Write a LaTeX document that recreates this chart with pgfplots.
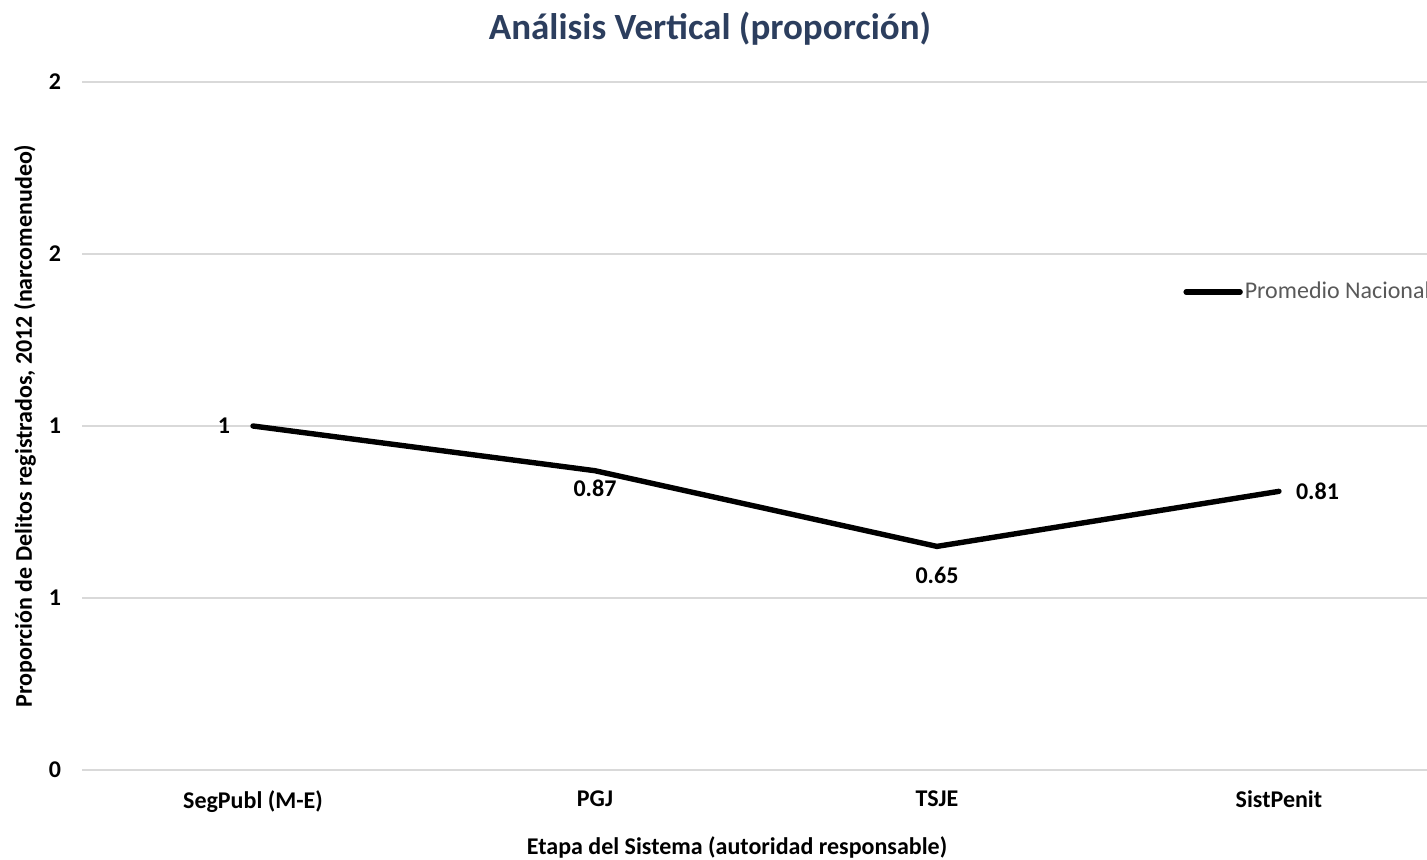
\documentclass[border=0pt]{standalone}
\usepackage{pgfplots}
\pgfplotsset{compat=1.18}
\usepackage{fontspec}
\setmainfont{Carlito}
\definecolor{titleblue}{RGB}{44,62,94}
\definecolor{gridgray}{RGB}{217,217,217}
\definecolor{legtext}{RGB}{89,89,89}
\begin{document}
\begin{tikzpicture}
\path[use as bounding box] (0,0) rectangle (713.5pt,430pt);
\begin{axis}[
  at={(41pt,45pt)}, anchor=south west,
  scale only axis,
  width=672.5pt, height=344pt,
  xmin=-0.5, xmax=3.433,
  ymin=0, ymax=2,
  axis line style={draw=none},
  tick style={draw=none},
  xtick={0,1,2,3},
  xticklabels={SegPubl (M-E),PGJ,TSJE,SistPenit},
  ytick={0,0.5,1,1.5,2},
  yticklabels={0,1,1,2,2},
  ymajorgrids,
  grid style={gridgray, line width=0.75pt},
  tick label style={font=\fontsize{12}{14}\selectfont\bfseries},
  yticklabel style={xshift=-7pt},
  xticklabel style={yshift=-7pt},
  legend style={at={(0.8186,0.6948)}, anchor=west, draw=none, fill=none,
    font=\fontsize{12}{14}\selectfont, text=legtext, inner sep=0pt,
    nodes={inner sep=1pt}},
  legend image code/.code={\draw[#1] (0pt,0pt) -- (27pt,0pt);},
  clip=false,
]
\addplot[black, line width=2.7pt, line cap=round, line join=round]
  coordinates {(0,1) (1,0.87) (2,0.65) (3,0.81)};
\addlegendentry{Promedio Nacional}
\addplot[draw=none, forget plot, point meta=explicit symbolic,
  nodes near coords, nodes near coords style={anchor=east, font=\fontsize{12}{14}\selectfont\bfseries, xshift=-8pt}]
  coordinates {(0,1) [1]};
\addplot[draw=none, forget plot, point meta=explicit symbolic,
  nodes near coords, nodes near coords style={anchor=north, font=\fontsize{12}{14}\selectfont\bfseries, yshift=-1pt}]
  coordinates {(1,0.87) [0.87]};
\addplot[draw=none, forget plot, point meta=explicit symbolic,
  nodes near coords, nodes near coords style={anchor=north, font=\fontsize{12}{14}\selectfont\bfseries, yshift=-7pt}]
  coordinates {(2,0.65) [0.65]};
\addplot[draw=none, forget plot, point meta=explicit symbolic,
  nodes near coords, nodes near coords style={anchor=west, font=\fontsize{12}{14}\selectfont\bfseries, xshift=5pt}]
  coordinates {(3,0.81) [0.81]};
\end{axis}
\node[font=\fontsize{18.5}{22}\selectfont\bfseries, text=titleblue] at (355pt,415.5pt) {Análisis Vertical (proporción)};
\node[font=\fontsize{12}{14}\selectfont\bfseries] at (368.5pt,6.5pt) {Etapa del Sistema (autoridad responsable)};
\node[font=\fontsize{12}{14}\selectfont\bfseries, rotate=90] at (12.5pt,217pt) {Proporción de Delitos registrados, 2012 (narcomenudeo)};
\end{tikzpicture}
\end{document}
